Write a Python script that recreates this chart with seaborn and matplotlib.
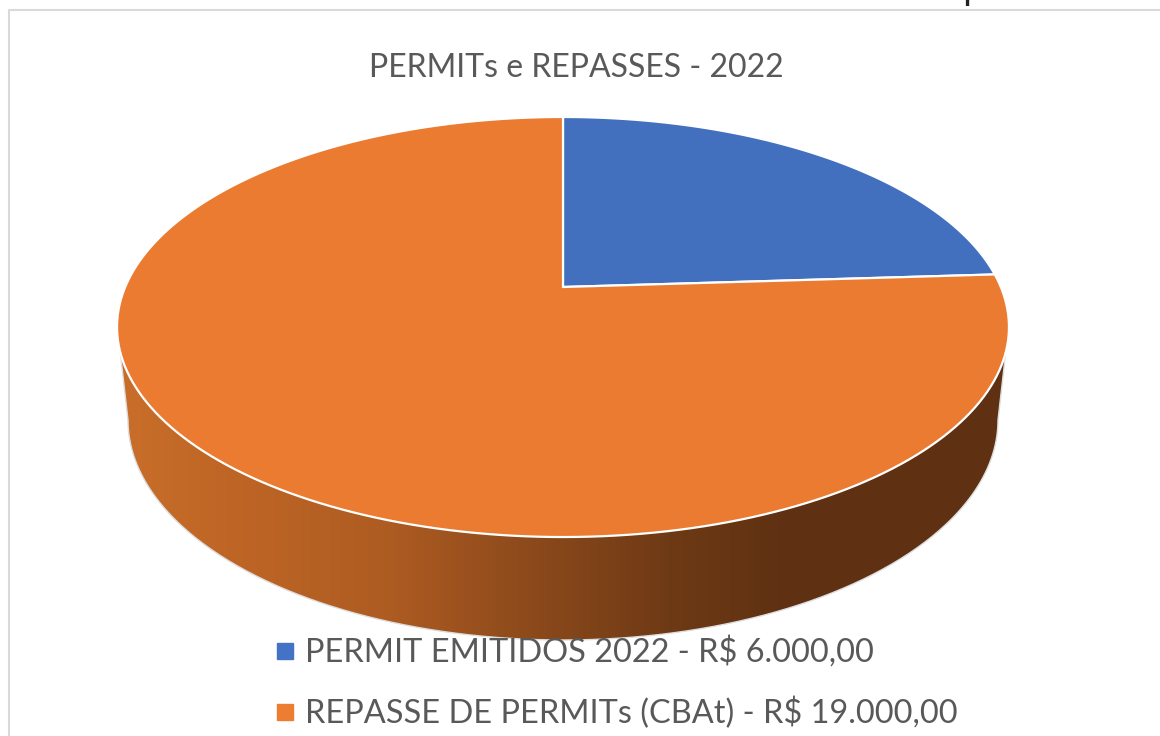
import matplotlib.pyplot as plt
from matplotlib.colors import LinearSegmentedColormap
from matplotlib.lines import Line2D
from matplotlib.patches import Polygon
import numpy as np
import seaborn as sns

categories = ['PERMIT EMITIDOS 2022', 'REPASSE DE PERMITs (CBAt)']
values = [6000, 19000]
value_labels = ['R$ 6.000,00', 'R$ 19.000,00']
colors = ['#4472C4', '#ED7D31']
disc_colors = ['#4270BF', '#EA7B30']
title = 'PERMITs e REPASSES - 2022'
clipped_text = 'total de repasses do'

sns.set_theme(style='white')
plt.rcParams['font.family'] = ['Lato', 'DejaVu Sans']
text_color = '#595959'

# the disc is a circle seen in perspective, centre of the circle is not
# the centre of the ellipse on screen
cx, cy = 563, 287
w, h, k = 437.8, 202.4, 0.1905


def project(theta):
    u, v = np.sin(theta), np.cos(theta)
    return np.column_stack([cx + w * u / (1 + k * v), cy - h * v / (1 + k * v)])


def wedge(start, stop):
    t = np.linspace(start, stop, 200)
    return np.vstack([[cx, cy], project(t)])


fig = plt.figure(figsize=(11.6, 7.36), dpi=100)
ax = fig.add_axes([0, 0, 1, 1])

# chart frame, only left and top are in view
ax.plot([9, 9, 1160], [736, 10, 10], color='#D9D9D9', lw=1.5, zorder=1)

# side of the disc: lower half of a second ellipse plus a horizontal gradient
t = np.linspace(np.pi, 0, 300)
side = np.column_stack([563 + 435 * np.cos(t), 420 + 220 * np.sin(t)])
side = np.vstack([side, [1006, 350], [120, 350]])
cmap = LinearSegmentedColormap.from_list(
    'side', [(0, '#C96E2A'), (0.12, '#BF6626'), (0.3, '#AE5C22'), (0.45, '#8F4B1C'),
             (0.62, '#6E3A15'), (0.75, '#5F3112'), (1, '#5F3112')])
im = ax.imshow(np.linspace(0, 1, 512)[None, :], cmap=cmap, aspect='auto',
               extent=[118, 1008, 736, 0], zorder=2)
patch = Polygon(side, closed=True, transform=ax.transData, fc='none', ec='none')
ax.add_patch(patch)
im.set_clip_path(patch)
ax.plot(np.r_[120, side[:300, 0], 1006], np.r_[350, side[:300, 1], 350],
        color='#DDDDDD', lw=1, zorder=3)

# top of the disc
angles = 2 * np.pi * np.cumsum([0] + values) / sum(values)
for i, color in enumerate(disc_colors):
    ax.add_patch(Polygon(wedge(angles[i], angles[i + 1]), closed=True, fc=color,
                         ec='white', lw=1.6, zorder=4))

ax.set_xlim(0, 1160)
ax.set_ylim(736, 0)
ax.axis('off')

ax.text(576, 68, title, color=text_color, fontsize=23, ha='center', va='center', zorder=5)
ax.text(801, 0.4, clipped_text, color='#222222', fontsize=26, ha='left', va='baseline', zorder=5)

handles = [Line2D([], [], marker='s', ls='none', ms=11, color=c) for c in colors]
labels = [f'{c} - {v}' for c, v in zip(categories, value_labels)]
ax.legend(handles, labels, loc='upper left', bbox_to_anchor=(269 / 1160, 1 - 636 / 736),
          frameon=False, fontsize=23.4, labelcolor=text_color, labelspacing=0.89,
          handlelength=1, handletextpad=0.1, borderpad=0, borderaxespad=0)

plt.savefig('out.png', dpi=100)
